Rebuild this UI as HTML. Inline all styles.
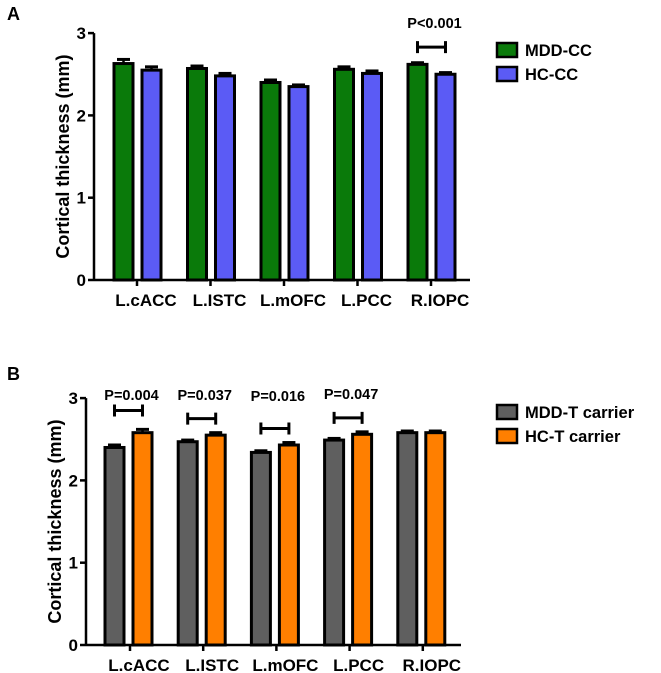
<!DOCTYPE html>
<html><head><meta charset="utf-8"><style>
body{margin:0;background:#fff;}
svg{display:block;font-family:"Liberation Sans",Arial,sans-serif;font-weight:bold;}
</style></head><body>
<svg id="s" width="661" height="673"></svg>
<script>
const categories = ["L.cACC","L.ISTC","L.mOFC","L.PCC","R.IOPC"];
const yTicks = [0,1,2,3];
const aMdd = [2.63,2.57,2.40,2.56,2.62];
const aMddErr = [0.05,0.03,0.03,0.03,0.02];
const aHc = [2.55,2.48,2.35,2.51,2.50];
const aHcErr = [0.04,0.03,0.02,0.03,0.02];
const bMdd = [2.40,2.47,2.34,2.49,2.58];
const bMddErr = [0.03,0.02,0.02,0.02,0.02];
const bHc = [2.58,2.55,2.43,2.56,2.58];
const bHcErr = [0.04,0.03,0.03,0.03,0.02];
const aSigLabels = ["P<0.001"];
const aSigIdx = [4];
const bSigLabels = ["P=0.004","P=0.037","P=0.016","P=0.047"];
const bSigIdx = [0,1,2,3];
const bSigLevel = [2.85,2.75,2.63,2.76];
const aSigLevel = [2.83];

const NS="http://www.w3.org/2000/svg";
const svg=document.getElementById('s');
function mk(tag,attrs,parent){const e=document.createElementNS(NS,tag);for(const k in attrs)e.setAttribute(k,attrs[k]);(parent||svg).appendChild(e);return e;}

function panel(cfg){
  const g=mk('g',{});
  
  
  const y=v=>cfg.y0-v*cfg.unit;
  const x=i=>cfg.x0tick+i*cfg.step;
  const L=mk('text',{x:7,y:cfg.letterY,'font-size':18},g);L.textContent=cfg.letter;
  
  
  const t=mk('text',{x:0,y:0,'font-size':18,'text-anchor':'middle',transform:`translate(${cfg.axX-25},${(y(0)+y(3))/2}) rotate(-90)`},g);
  t.textContent='Cortical thickness (mm)';
  
  
  const ax=mk('line',{x1:cfg.axX,y1:y(3),x2:cfg.axX,y2:y(0),stroke:'#000','stroke-width':2.5},g);
  
  
  const xa=mk('line',{x1:cfg.axX,y1:y(0),x2:cfg.axEnd,y2:y(0),stroke:'#000','stroke-width':2.5},g);
  
  
  yTicks.forEach(v=>{
    mk('line',{x1:cfg.axX-6,y1:y(v),x2:cfg.axX,y2:y(v),stroke:'#000','stroke-width':2.5},g);
    const tl=mk('text',{x:cfg.axX-8,y:y(v)+6,'font-size':17,'text-anchor':'end'},g);tl.textContent=v;
    
    
  });
  categories.forEach((c,i)=>{
    mk('line',{x1:x(i),y1:y(0),x2:x(i),y2:y(0)+6,stroke:'#000','stroke-width':2.5},g);
    const cl=mk('text',{x:x(i)+9,y:y(0)+26,'font-size':17,'text-anchor':'middle'},g);cl.textContent=c;
    
    
    [[cfg.s1,cfg.e1,cfg.c1,cfg.off1],[cfg.s2,cfg.e2,cfg.c2,cfg.off2]].forEach(([s,e,col,off],k)=>{
      const bx=x(i)+off,w=cfg.bw,top=y(s[i]);
      const r=mk('rect',{x:bx,y:top,width:w,height:y(0)-top,fill:col,stroke:'#000','stroke-width':3},g);
      
      
      const et=y(s[i]+e[i]);
      mk('line',{x1:bx+w/2,y1:top,x2:bx+w/2,y2:et,stroke:'#000','stroke-width':2.5},g);
      mk('line',{x1:bx+3,y1:et,x2:bx+w-3,y2:et,stroke:'#000','stroke-width':3},g);
    });
  });
  cfg.sigIdx.forEach((i,k)=>{
    const x1=x(i)+cfg.off1+cfg.bw/2,x2=x(i)+cfg.off2+cfg.bw/2,yy=y(cfg.sigLevel[k]);
    const p=mk('path',{d:`M${x1},${yy-6}V${yy+6}M${x1},${yy}H${x2}M${x2},${yy-6}V${yy+6}`,stroke:'#000','stroke-width':3,fill:'none'},g);
    
    
    const pt=mk('text',{x:(x1+x2)/2+3,y:cfg.sigTextY[k],'font-size':14.5,'text-anchor':'middle'},g);pt.textContent=cfg.sigLabels[k];
    
    
  });
  cfg.legend.forEach((l,k)=>{
    const ly=cfg.legY+k*24;
    const r=mk('rect',{x:497,y:ly-7,width:20,height:14,fill:l[1],stroke:'#000','stroke-width':2.5},g);
    
    
    const lt=mk('text',{x:525,y:ly+6,'font-size':16.5},g);lt.textContent=l[0];
    
    
  });
}
panel({name:'panel-a',letter:'A',letterY:20,y0:280,unit:82.3,axX:94,axEnd:470,x0tick:137,step:73.5,bw:19,
  s1:aMdd,e1:aMddErr,c1:'#0a7a0a',off1:-23,s2:aHc,e2:aHcErr,c2:'#5b5bf5',off2:5,
  sigIdx:aSigIdx,sigLevel:aSigLevel,sigLabels:aSigLabels,sigTextY:[28],
  legend:[['MDD-CC','#0a7a0a'],['HC-CC','#5b5bf5']],legY:50});
panel({name:'panel-b',letter:'B',letterY:380,y0:645,unit:82.3,axX:86,axEnd:461,x0tick:130,step:73.2,bw:19,
  s1:bMdd,e1:bMddErr,c1:'#5f5f5f',off1:-25,s2:bHc,e2:bHcErr,c2:'#ff7f00',off2:3,
  sigIdx:bSigIdx,sigLevel:bSigLevel,sigLabels:bSigLabels,sigTextY:[400,400,401,399],
  legend:[['MDD-T carrier','#5f5f5f'],['HC-T carrier','#ff7f00']],legY:412});
</script>
</body></html>
